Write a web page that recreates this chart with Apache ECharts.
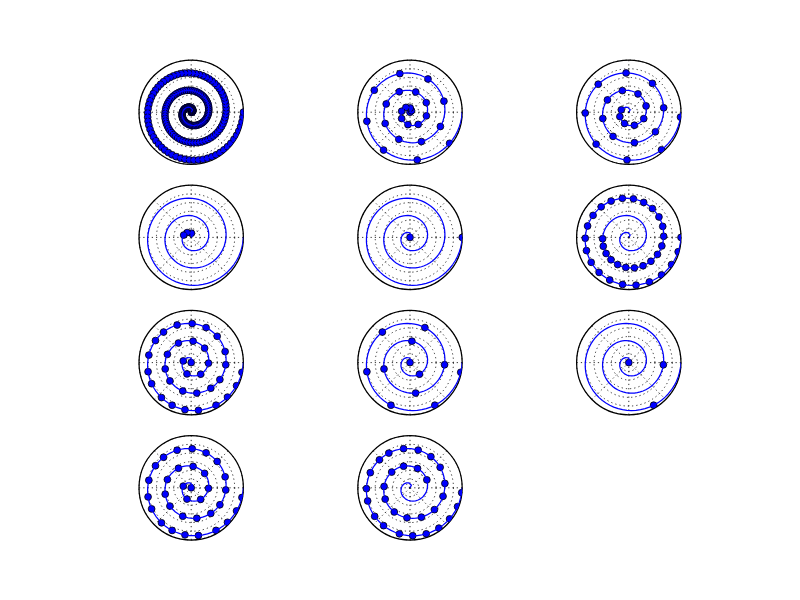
<!DOCTYPE html>
<html>
<head>
<meta charset="utf-8">
<script src="https://cdn.jsdelivr.net/npm/echarts@6/dist/echarts.min.js"></script>
<style>
  html, body { margin: 0; padding: 0; background: #fff; }
  #chart { width: 800px; height: 600px; }
</style>
</head>
<body>
<div id="chart"></div>
<script>
// spiral: 200 samples, radius 0..3, the angle (in turns) equals the radius
var spiralR = [
  0.000, 0.015, 0.030, 0.045, 0.060, 0.075, 0.090, 0.106, 0.121, 0.136,
  0.151, 0.166, 0.181, 0.196, 0.211, 0.226, 0.241, 0.256, 0.271, 0.286,
  0.302, 0.317, 0.332, 0.347, 0.362, 0.377, 0.392, 0.407, 0.422, 0.437,
  0.452, 0.467, 0.482, 0.497, 0.513, 0.528, 0.543, 0.558, 0.573, 0.588,
  0.603, 0.618, 0.633, 0.648, 0.663, 0.678, 0.693, 0.709, 0.724, 0.739,
  0.754, 0.769, 0.784, 0.799, 0.814, 0.829, 0.844, 0.859, 0.874, 0.889,
  0.905, 0.920, 0.935, 0.950, 0.965, 0.980, 0.995, 1.010, 1.025, 1.040,
  1.055, 1.070, 1.085, 1.101, 1.116, 1.131, 1.146, 1.161, 1.176, 1.191,
  1.206, 1.221, 1.236, 1.251, 1.266, 1.281, 1.296, 1.312, 1.327, 1.342,
  1.357, 1.372, 1.387, 1.402, 1.417, 1.432, 1.447, 1.462, 1.477, 1.492,
  1.508, 1.523, 1.538, 1.553, 1.568, 1.583, 1.598, 1.613, 1.628, 1.643,
  1.658, 1.673, 1.688, 1.704, 1.719, 1.734, 1.749, 1.764, 1.779, 1.794,
  1.809, 1.824, 1.839, 1.854, 1.869, 1.884, 1.899, 1.915, 1.930, 1.945,
  1.960, 1.975, 1.990, 2.005, 2.020, 2.035, 2.050, 2.065, 2.080, 2.095,
  2.111, 2.126, 2.141, 2.156, 2.171, 2.186, 2.201, 2.216, 2.231, 2.246,
  2.261, 2.276, 2.291, 2.307, 2.322, 2.337, 2.352, 2.367, 2.382, 2.397,
  2.412, 2.427, 2.442, 2.457, 2.472, 2.487, 2.503, 2.518, 2.533, 2.548,
  2.563, 2.578, 2.593, 2.608, 2.623, 2.638, 2.653, 2.668, 2.683, 2.698,
  2.714, 2.729, 2.744, 2.759, 2.774, 2.789, 2.804, 2.819, 2.834, 2.849,
  2.864, 2.879, 2.894, 2.910, 2.925, 2.940, 2.955, 2.970, 2.985, 3.000
];

// which samples carry a marker in each panel (null = every sample)
var markNone = null;
var markEvery8 = [0, 8, 16, 24, 32, 40, 48, 56, 64, 72, 80, 88, 96, 104, 112, 120, 128, 136, 144, 152, 160, 168, 176, 184, 192];
var markStart30 = [30, 38, 46, 54, 62, 70, 78, 86, 94, 102, 110, 118, 126, 134, 142, 150, 158, 166, 174, 182, 190, 198];
var markList = [16, 24, 30];
var markEnds = [0, 199];
var markSlice = [100, 103, 106, 109, 112, 115, 118, 121, 124, 127, 130, 133, 136, 139, 142, 145, 148, 151, 154, 157,
  160, 163, 166, 169, 172, 175, 178, 181, 184, 187, 190, 193, 196, 199];
var markF01 = [0, 31, 46, 57, 66, 75, 82, 89, 96, 102, 107, 113, 118, 123, 127, 132, 136, 141, 145, 149,
  153, 157, 160, 164, 168, 171, 175, 178, 181, 184, 188, 191, 194, 197];
var markF03 = [0, 57, 82, 102, 118, 132, 145, 157, 168, 178, 188, 197];
var markF15 = [0, 132, 188];
var markF00_01 = [0, 31, 46, 57, 66, 75, 82, 89, 96, 102, 107, 113, 118, 123, 127, 132, 136, 141, 145, 149,
  153, 157, 160, 164, 168, 171, 175, 178, 181, 184, 188, 191, 194, 197];
var markF045_01 = [71, 79, 86, 92, 99, 104, 110, 115, 120, 125, 130, 134, 139, 143, 147, 151, 155, 158, 162, 166,
  169, 173, 176, 180, 183, 186, 189, 192, 195, 198];

var cases = [markNone, markEvery8, markStart30, markList, markEnds, markSlice,
  markF01, markF03, markF15, markF00_01, markF045_01];

// panel layout (4 x 3 grid, pixel centres)
var colX = [191.2, 410.0, 628.8];
var rowY = [112.2, 237.4, 362.6, 487.8];
var panelR = 52.2;

var gridStyle = { color: '#000', width: 0.8, type: [1.25, 3] };

var polar = [], angleAxis = [], radiusAxis = [], series = [];
var lineData = spiralR.map(function (r) { return [r, r]; });

function markerRenderer(cx, cy) {
  // markers are clipped to the round axes, like the original
  return function (params, api) {
    var p = api.coord([api.value(0), api.value(1)]);
    return {
      type: 'circle',
      shape: { cx: p[0], cy: p[1], r: 3.4 },
      style: { fill: '#0000ff', stroke: '#000', lineWidth: 0.8 },
      clipPath: { type: 'circle', shape: { cx: cx, cy: cy, r: panelR } }
    };
  };
}

cases.forEach(function (marks, k) {
  var cx = colX[k % 3], cy = rowY[Math.floor(k / 3)];
  polar.push({
    center: [cx, cy],
    radius: [0, panelR]
  });
  angleAxis.push({
    polarIndex: k,
    type: 'value',
    min: 0,
    max: 1,
    interval: 0.125,
    startAngle: 0,
    clockwise: false,
    axisLine: { show: true, lineStyle: { color: '#000', width: 1.25 } },
    axisTick: { show: false },
    axisLabel: { show: false },
    splitLine: { show: true, lineStyle: gridStyle }
  });
  radiusAxis.push({
    polarIndex: k,
    type: 'value',
    min: 0,
    max: 3,
    interval: 0.5,
    axisLine: { show: false },
    axisTick: { show: false },
    axisLabel: { show: false },
    splitLine: { show: true, lineStyle: gridStyle }
  });
  series.push({
    type: 'line',
    coordinateSystem: 'polar',
    polarIndex: k,
    data: lineData,
    showSymbol: false,
    clip: true,
    silent: true,
    lineStyle: { color: '#0000ff', width: 1.25 }
  });
  var idx = marks === null ? spiralR.map(function (r, i) { return i; }) : marks;
  series.push({
    type: 'custom',
    coordinateSystem: 'polar',
    polarIndex: k,
    data: idx.map(function (i) { return [spiralR[i], spiralR[i]]; }),
    renderItem: markerRenderer(cx, cy),
    clip: false,
    silent: true
  });
});

var chart = echarts.init(document.getElementById('chart'));
chart.setOption({
  backgroundColor: '#fff',
  animation: false,
  polar: polar,
  angleAxis: angleAxis,
  radiusAxis: radiusAxis,
  series: series
});
</script>
</body>
</html>
